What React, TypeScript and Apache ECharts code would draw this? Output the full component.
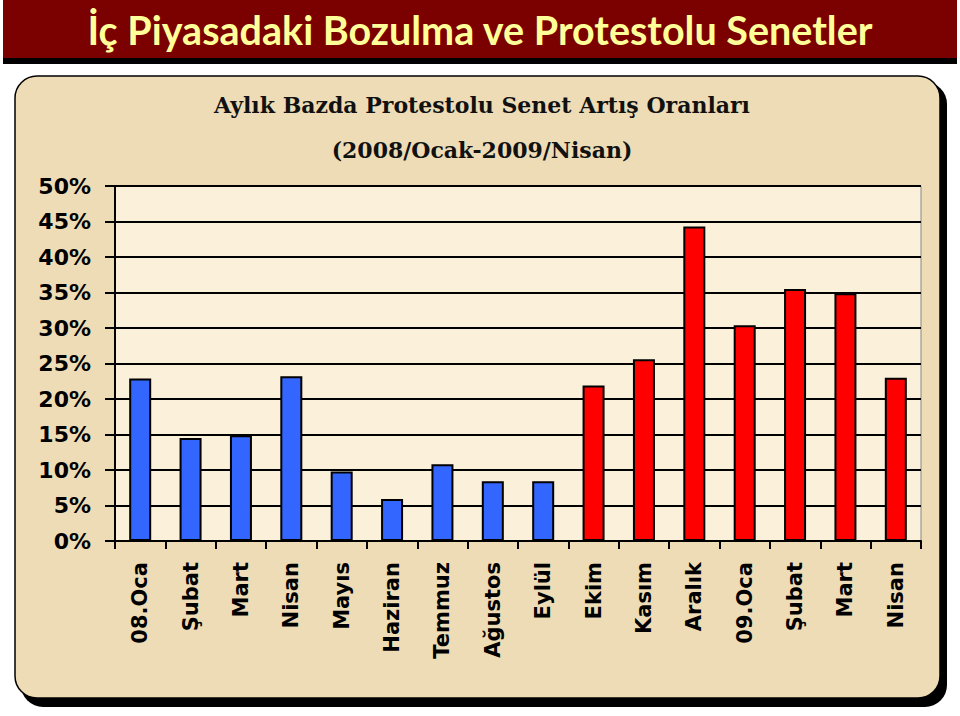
import React, { useEffect, useRef } from "react";
import * as echarts from "echarts";

const categories = [
  "08.Oca", "Şubat", "Mart", "Nisan", "Mayıs", "Haziran", "Temmuz", "Ağustos", "Eylül",
  "Ekim", "Kasım", "Aralık", "09.Oca", "Şubat", "Mart", "Nisan",
];
const values = [22.9, 14.5, 14.9, 23.2, 9.8, 5.9, 10.8, 8.4, 8.4, 21.9, 25.6, 44.3, 30.4, 35.5, 34.9, 23.0];
const groups = ["2008", "2008", "2008", "2008", "2008", "2008", "2008", "2008", "2008", "2008b", "2008b", "2008b", "2009", "2009", "2009", "2009"];
const groupColors: Record<string, string> = { "2008": "#3366ff", "2008b": "#ff0000", "2009": "#ff0000" };
const yTicks = { min: 0, max: 50, interval: 5 };

const mainTitle = "İç Piyasadaki Bozulma ve Protestolu Senetler";
const chartTitle = "Aylık Bazda Protestolu Senet Artış Oranları";
const chartSubtitle = "(2008/Ocak-2009/Nisan)";

export default function App() {
  const ref = useRef<HTMLDivElement>(null);
  useEffect(() => {
    if (!ref.current) return;
    const chart = echarts.init(ref.current, null, { renderer: "svg" });
    const seriesData = values.map((v, i) => ({
      value: v,
      itemStyle: { color: groupColors[groups[i]] },
    }));
    chart.setOption({
      animation: false,
      backgroundColor: "#ffffff",
      graphic: [
        { type: "rect", z: -20, shape: { x: 3, y: 0, width: 954, height: 58 }, style: { fill: "#7b0000" } },
        { type: "rect", z: -20, shape: { x: 3, y: 58, width: 954, height: 6 }, style: { fill: "#000000" } },
        { type: "rect", z: -20, shape: { x: 21, y: 82, width: 926, height: 625, r: 22 }, style: { fill: "#000000" } },
        { type: "rect", z: -19, shape: { x: 15, y: 76, width: 925, height: 622, r: 22 }, style: { fill: "#eedcb6", stroke: "#000", lineWidth: 1.5 } },
      ],
      title: [
        {
          text: mainTitle,
          left: "center",
          top: 4,
          textStyle: { fontFamily: "Lato", fontWeight: "bold", fontSize: 39.5, color: "#ffff99" },
        },
        {
          text: chartTitle,
          left: 477,
          textAlign: "center",
          top: 89,
          textStyle: { fontFamily: "DejaVu Serif", fontWeight: "bold", fontSize: 22, color: "#111" },
        },
        {
          text: chartSubtitle,
          left: 477,
          textAlign: "center",
          top: 134,
          textStyle: { fontFamily: "DejaVu Serif", fontWeight: "bold", fontSize: 22, color: "#111" },
        },
      ],
      grid: {
        left: 115,
        right: 39,
        top: 186,
        bottom: 175,
        show: true,
        backgroundColor: "#fbf1da",
        borderColor: "#888",
        borderWidth: 1,
      },
      xAxis: {
        type: "category",
        data: categories,
        axisLine: { lineStyle: { color: "#000", width: 2 } },
        axisTick: { show: true, length: 8, lineStyle: { color: "#000", width: 2 } },
        axisLabel: {
          rotate: 90,
          interval: 0,
          margin: 21,
          fontFamily: "DejaVu Sans",
          fontWeight: "bold",
          fontSize: 21,
          color: "#000",
        },
      },
      yAxis: {
        type: "value",
        min: yTicks.min,
        max: yTicks.max,
        interval: yTicks.interval,
        axisLine: { show: true, lineStyle: { color: "#000", width: 2 } },
        axisTick: { show: true, length: 10, lineStyle: { color: "#000", width: 2 } },
        splitLine: { lineStyle: { color: "#000", width: 2 } },
        axisLabel: {
          formatter: "{value}%",
          margin: 24,
          fontFamily: "DejaVu Sans",
          fontWeight: "bold",
          fontSize: 22,
          color: "#000",
        },
      },
      series: [
        {
          type: "bar",
          data: seriesData,
          barWidth: 22,
          itemStyle: { borderColor: "#000", borderWidth: 2 },
        },
      ],
    });
    return () => chart.dispose();
  }, []);
  return (
    <div
      ref={ref}
      style={{ position: "absolute", left: 0, top: 0, width: 960, height: 716 }}
    />
  );
}
